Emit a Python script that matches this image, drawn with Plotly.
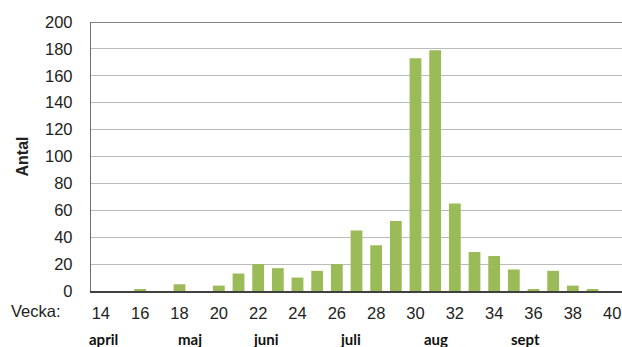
import plotly.graph_objects as go

weeks = list(range(14, 41))
counts = [0, 0, 1, 0, 5, 0, 4, 13, 20, 17, 10, 15, 20, 45, 34, 52, 173, 179, 65, 29, 26, 16, 1, 15, 4, 1, 0]
tick_weeks = list(range(14, 41, 2))
months = ["april", "maj", "juni", "juli", "aug", "sept"]
month_pos = [14.15, 18.55, 22.4, 26.7, 31.05, 35.6]

fig = go.Figure()
fig.add_trace(go.Bar(x=weeks, y=counts, marker=dict(color="#9BBB59", line=dict(width=0)), width=0.6))

fig.update_layout(
    width=622, height=347,
    margin=dict(l=91, r=0, t=22, b=56, autoexpand=False),
    plot_bgcolor="white", paper_bgcolor="white",
    showlegend=False,
    font=dict(family="Arial, Liberation Sans", size=16.5, color="#222222"),
    xaxis=dict(range=[13.5, 40.5], tickvals=tick_weeks, ticks="", showgrid=False,
               showline=True, linecolor="#404040", linewidth=1.5, zeroline=False,
               automargin=False, ticklabelstandoff=6,
               tickfont=dict(size=16.5, color="#222222")),
    yaxis=dict(range=[0, 200], dtick=20, showgrid=True, gridcolor="#BBBBBB", gridwidth=1.4,
               showline=True, linecolor="#6F6F6F", linewidth=1.4, zeroline=False,
               automargin=False, ticklabelstandoff=14,
               ticks="", tickfont=dict(size=16.5, color="#222222"),
               title=dict(text="<b>Antal</b>", font=dict(size=16, color="#222222"), standoff=12)),
)
fig.add_shape(type="line", xref="paper", yref="y", x0=0, x1=1, y0=200, y1=200,
              line=dict(color="#595959", width=1.5))
fig.add_annotation(text="Vecka:", xref="paper", yref="paper", x=-0.053, y=0, yshift=-20,
                   xanchor="right", yanchor="middle", showarrow=False,
                   font=dict(size=16.5, color="#222222"))
for m, p in zip(months, month_pos):
    fig.add_annotation(text="<b>" + m + "</b>", xref="x", yref="paper", x=p, y=0, yshift=-48,
                       xanchor="center", yanchor="middle", showarrow=False,
                       font=dict(family="Lato, Open Sans", size=15, color="#111111"))

fig.write_html("out.html", config={"responsive": False, "displayModeBar": False},
               post_script="document.body.style.margin='0';document.body.style.overflow='hidden';")
